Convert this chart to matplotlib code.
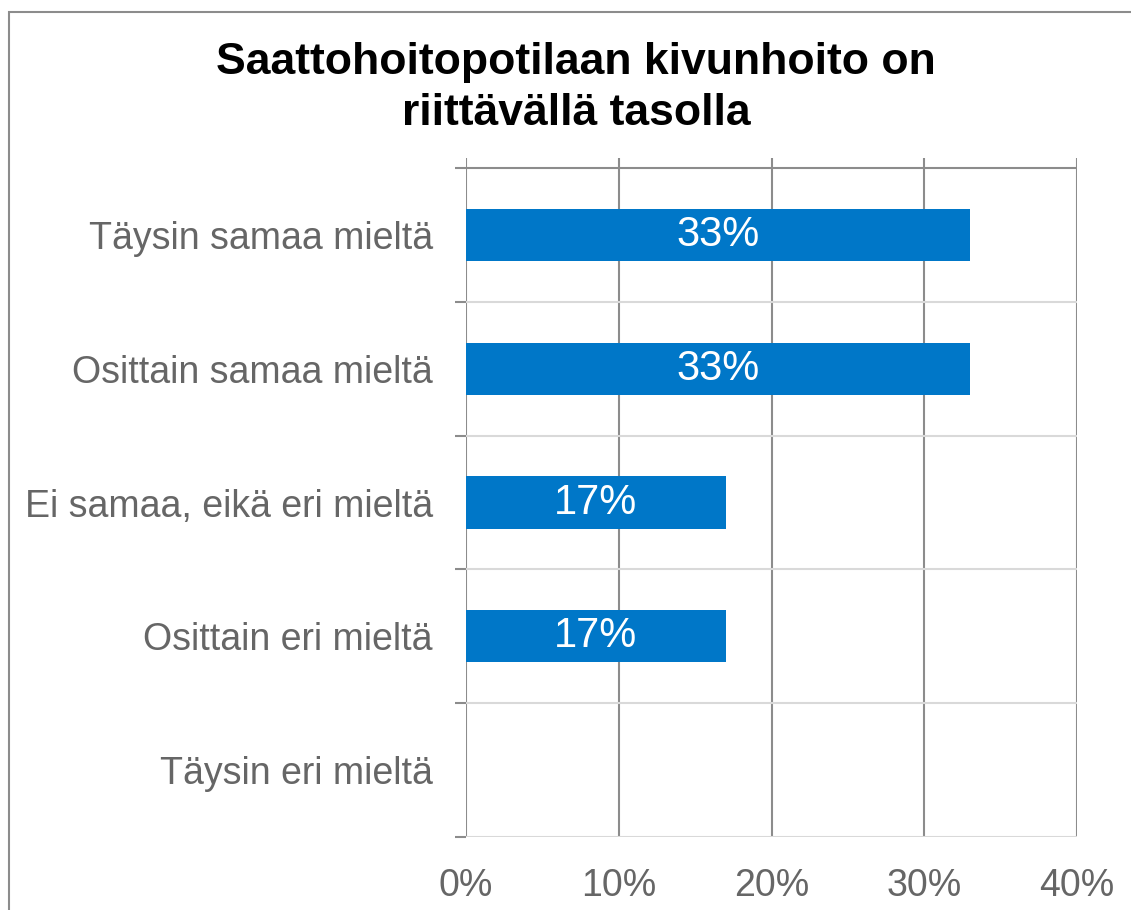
import matplotlib.pyplot as plt
from matplotlib.patches import Rectangle
from matplotlib.ticker import FixedLocator

plt.rcParams['font.family'] = ['Liberation Sans', 'DejaVu Sans']

# data
title = 'Saattohoitopotilaan kivunhoito on\nriittävällä tasolla'
categories = ['Täysin samaa mieltä', 'Osittain samaa mieltä',
              'Ei samaa, eikä eri mieltä', 'Osittain eri mieltä',
              'Täysin eri mieltä']
values = [33, 33, 17, 17, 0]
x_ticks = [0, 10, 20, 30, 40]
x_ticklabels = ['0%', '10%', '20%', '30%', '40%']

bar_color = '#0077C8'
grid_dark = '#8c8c8c'
grid_light = '#d9d9d9'
text_gray = '#666666'

fig = plt.figure(figsize=(11.31, 9.10), dpi=100)
ax = fig.add_axes([466 / 1131, 1 - 837 / 910, (1077 - 466) / 1131, (837 - 158) / 910])

# outer frame (only left and top edges visible in the image)
fig.patches.append(Rectangle((9 / 1131, -0.2), 1.5, 1.2 - 12 / 910,
                             transform=fig.transFigure, fill=False,
                             edgecolor=grid_dark, linewidth=1.5))

pos = list(range(len(categories)))
bars = ax.barh(pos, values, height=0.39, color=bar_color, zorder=3)
ax.bar_label(bars, labels=[f'{v}%' if v > 0 else '' for v in values],
             label_type='center', color='white', fontsize=30)

ax.set_xlim(0, 40)
ax.set_ylim(len(categories) - 0.5, -0.575)

# vertical gridlines
for t in x_ticks:
    ax.axvline(t, color=grid_dark, linewidth=1.5, zorder=1)

# category separators
ax.axhline(-0.5, color=grid_dark, linewidth=1.5, zorder=2)
for b in range(len(categories)):
    ax.axhline(b + 0.5, color=grid_light, linewidth=1.5, zorder=2)

for s in ax.spines.values():
    s.set_visible(False)

ax.set_xticks(x_ticks)
ax.set_xticklabels(x_ticklabels, fontsize=27, color=text_gray)
ax.tick_params(axis='x', length=0, pad=22)

ax.set_yticks(pos)
ax.set_yticklabels(categories, fontsize=27, color=text_gray)
ax.yaxis.set_minor_locator(FixedLocator([p - 0.5 for p in pos] + [len(pos) - 0.5]))
ax.tick_params(axis='y', which='major', length=0, pad=24)
ax.tick_params(axis='y', which='minor', length=8, width=1.5, color=grid_dark)

fig.text(576 / 1131, 1 - 42 / 910, title, ha='center', va='top',
         fontsize=32, fontweight='bold', linespacing=1.3)

plt.savefig('out.png', dpi=100)
